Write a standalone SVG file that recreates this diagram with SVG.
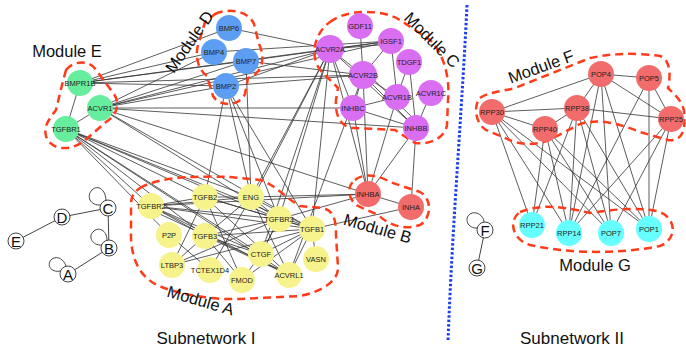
<svg xmlns="http://www.w3.org/2000/svg" width="686" height="349" viewBox="0 0 686 349">
<style>
.e{stroke:#333;stroke-width:0.8;fill:none}
.n text{font-family:"Liberation Sans",Arial,sans-serif;font-size:7.5px;fill:#222;text-anchor:middle;dominant-baseline:central}
.g circle{fill:#66ee9e}
.b circle{fill:#5e9ef2}
.p circle{fill:#d96ef2}
.y circle{fill:#f7f38c}
.r circle{fill:#f36c6c}
.c circle{fill:#66ffff}
.hull{fill:none;stroke:#ff3b1a;stroke-width:2.5;stroke-dasharray:8 5}
.lbl{font-family:"Liberation Sans",Arial,sans-serif;font-size:16.5px;fill:#111;text-anchor:middle}
.s circle{fill:#fff;stroke:#444;stroke-width:1}
.s text{font-family:"Liberation Sans",Arial,sans-serif;font-size:15px;fill:#111;text-anchor:middle;dominant-baseline:central}
.sl{stroke:#444;stroke-width:1;fill:none}
</style>
<rect width="686" height="349" fill="#fff"/>
<g id="connectors" class="e">
<line x1="80" y1="83" x2="66" y2="129"/><line x1="100" y1="108" x2="66" y2="129"/>
<line x1="80" y1="83" x2="229" y2="28"/><line x1="80" y1="83" x2="214" y2="52"/><line x1="80" y1="83" x2="246" y2="61"/><line x1="80" y1="83" x2="226" y2="86"/><line x1="80" y1="83" x2="330" y2="49"/><line x1="80" y1="83" x2="363" y2="75"/>
<line x1="100" y1="108" x2="214" y2="52"/><line x1="100" y1="108" x2="246" y2="61"/><line x1="100" y1="108" x2="226" y2="86"/><line x1="100" y1="108" x2="391" y2="41"/><line x1="100" y1="108" x2="330" y2="49"/><line x1="100" y1="108" x2="353" y2="108"/><line x1="100" y1="108" x2="416" y2="128"/><line x1="100" y1="108" x2="368" y2="194"/><line x1="100" y1="108" x2="279" y2="219"/><line x1="100" y1="108" x2="312" y2="229"/>
<line x1="66" y1="129" x2="151" y2="206"/><line x1="66" y1="129" x2="205" y2="197"/><line x1="66" y1="129" x2="205" y2="236"/><line x1="66" y1="129" x2="251" y2="197"/><line x1="66" y1="129" x2="279" y2="219"/><line x1="66" y1="129" x2="312" y2="229"/><line x1="66" y1="129" x2="289" y2="275"/><line x1="66" y1="129" x2="261" y2="254"/><line x1="66" y1="129" x2="169" y2="235"/>
<line x1="229" y1="28" x2="330" y2="49"/><line x1="246" y1="61" x2="363" y2="75"/><line x1="246" y1="61" x2="391" y2="41"/><line x1="214" y1="52" x2="391" y2="41"/><line x1="226" y1="86" x2="330" y2="49"/><line x1="226" y1="86" x2="363" y2="75"/>
<line x1="226" y1="86" x2="205" y2="197"/><line x1="226" y1="86" x2="251" y2="197"/><line x1="226" y1="86" x2="312" y2="229"/><line x1="246" y1="61" x2="251" y2="197"/><line x1="226" y1="86" x2="279" y2="219"/>
<line x1="330" y1="49" x2="363" y2="75"/><line x1="330" y1="49" x2="416" y2="128"/><line x1="330" y1="49" x2="353" y2="108"/><line x1="360" y1="26" x2="363" y2="75"/><line x1="391" y1="41" x2="363" y2="75"/><line x1="391" y1="41" x2="397" y2="97"/><line x1="409" y1="62" x2="397" y2="97"/><line x1="409" y1="62" x2="416" y2="128"/><line x1="431" y1="93" x2="416" y2="128"/><line x1="363" y1="75" x2="397" y2="97"/><line x1="363" y1="75" x2="416" y2="128"/><line x1="367" y1="73" x2="420" y2="125"/><line x1="363" y1="75" x2="353" y2="108"/><line x1="353" y1="108" x2="397" y2="97"/><line x1="353" y1="108" x2="416" y2="128"/><line x1="330" y1="49" x2="391" y2="41"/><line x1="330" y1="49" x2="391" y2="44"/>
<line x1="330" y1="49" x2="368" y2="194"/><line x1="330" y1="49" x2="251" y2="197"/><line x1="330" y1="49" x2="253" y2="198"/><line x1="330" y1="49" x2="279" y2="219"/><line x1="330" y1="49" x2="312" y2="229"/><line x1="330" y1="49" x2="261" y2="254"/><line x1="363" y1="75" x2="368" y2="194"/><line x1="353" y1="108" x2="368" y2="194"/><line x1="397" y1="97" x2="368" y2="194"/><line x1="416" y1="128" x2="368" y2="194"/><line x1="416" y1="128" x2="411" y2="207"/><line x1="363" y1="75" x2="289" y2="275"/>
<line x1="368" y1="194" x2="411" y2="207"/><line x1="368" y1="194" x2="251" y2="197"/><line x1="368" y1="194" x2="279" y2="219"/><line x1="411" y1="207" x2="312" y2="229"/><line x1="368" y1="194" x2="151" y2="206"/>
<line x1="151" y1="206" x2="205" y2="197"/><line x1="151" y1="206" x2="251" y2="197"/><line x1="151" y1="206" x2="279" y2="219"/><line x1="151" y1="206" x2="312" y2="229"/><line x1="151" y1="206" x2="289" y2="275"/><line x1="151" y1="206" x2="261" y2="254"/><line x1="151" y1="206" x2="205" y2="236"/><line x1="151" y1="210" x2="285" y2="272"/>
<line x1="205" y1="197" x2="251" y2="197"/><line x1="205" y1="197" x2="279" y2="219"/><line x1="205" y1="197" x2="312" y2="229"/><line x1="205" y1="197" x2="172" y2="265"/><line x1="205" y1="197" x2="242" y2="280"/><line x1="205" y1="197" x2="289" y2="275"/>
<line x1="251" y1="197" x2="205" y2="236"/><line x1="251" y1="197" x2="312" y2="229"/><line x1="251" y1="197" x2="210" y2="270"/><line x1="251" y1="197" x2="289" y2="275"/><line x1="251" y1="197" x2="279" y2="219"/>
<line x1="279" y1="219" x2="205" y2="236"/><line x1="279" y1="219" x2="312" y2="229"/><line x1="279" y1="219" x2="172" y2="265"/><line x1="279" y1="219" x2="261" y2="254"/>
<line x1="312" y1="229" x2="205" y2="236"/><line x1="312" y1="229" x2="261" y2="254"/><line x1="312" y1="229" x2="289" y2="275"/><line x1="312" y1="229" x2="242" y2="280"/><line x1="312" y1="229" x2="316" y2="259"/><line x1="312" y1="229" x2="172" y2="265"/>
<line x1="205" y1="236" x2="289" y2="275"/><line x1="205" y1="236" x2="261" y2="254"/><line x1="205" y1="236" x2="172" y2="265"/><line x1="205" y1="236" x2="242" y2="280"/><line x1="169" y1="235" x2="210" y2="270"/><line x1="261" y1="254" x2="242" y2="280"/><line x1="261" y1="254" x2="279" y2="219"/>
<line x1="601" y1="74" x2="649" y2="78"/><line x1="601" y1="74" x2="492" y2="112"/><line x1="601" y1="74" x2="577" y2="108"/><line x1="601" y1="74" x2="671" y2="119"/><line x1="649" y1="78" x2="671" y2="119"/><line x1="492" y1="112" x2="577" y2="108"/><line x1="492" y1="112" x2="545" y2="129"/><line x1="577" y1="108" x2="545" y2="129"/><line x1="577" y1="108" x2="671" y2="119"/>
<line x1="492" y1="112" x2="532" y2="225"/><line x1="492" y1="112" x2="569" y2="233"/><line x1="492" y1="112" x2="649" y2="229"/><line x1="492" y1="112" x2="611" y2="233"/>
<line x1="545" y1="129" x2="532" y2="225"/><line x1="545" y1="129" x2="569" y2="233"/><line x1="545" y1="129" x2="611" y2="233"/><line x1="545" y1="129" x2="649" y2="229"/>
<line x1="577" y1="108" x2="532" y2="225"/><line x1="577" y1="108" x2="569" y2="233"/><line x1="577" y1="108" x2="611" y2="233"/><line x1="577" y1="108" x2="649" y2="229"/>
<line x1="601" y1="74" x2="569" y2="233"/><line x1="601" y1="74" x2="611" y2="233"/><line x1="601" y1="74" x2="649" y2="229"/>
<line x1="649" y1="78" x2="569" y2="233"/><line x1="649" y1="78" x2="649" y2="229"/>
<line x1="671" y1="119" x2="569" y2="233"/><line x1="671" y1="119" x2="611" y2="233"/><line x1="671" y1="119" x2="649" y2="229"/>
</g>
<g id="hulls">
<path class="hull" d="M66 70 C74 60 90 60 96 70 L114 94 C121 104 116 116 106 122 L84 141 C70 152 50 150 46 136 C43 126 50 118 56 110 L62 85 Z"/>
<path class="hull" d="M215 14 C228 8 248 10 254 24 L259 44 C266 58 262 74 248 78 L245 94 C240 106 220 108 213 96 L207 76 C198 70 194 55 199 42 L205 22 Z"/>
<path class="hull" d="M330 22 C345 10 380 8 400 20 L430 40 C445 55 450 80 448 100 L447 125 C445 138 430 145 415 143 L395 130 L355 128 C340 128 335 115 336 100 L338 88 L322 72 C310 60 312 35 330 22 Z"/>
<path class="hull" d="M355 180 C365 172 380 176 390 182 L420 192 C432 198 432 218 420 225 C405 230 390 226 378 215 L358 206 C348 200 346 186 355 180 Z"/>
<path class="hull" d="M140 188 C160 176 200 176 230 177 L260 180 C275 184 285 198 300 206 L322 208 C334 210 336 220 336 235 L338 268 C338 282 320 292 300 296 L240 299 C210 300 175 294 155 284 C138 274 132 258 131 238 L131 205 C131 196 134 192 140 188 Z"/>
<path class="hull" d="M480 98 C488 92 500 92 515 88 L590 58 C610 54 630 52 660 56 C672 60 670 80 668 88 C676 96 686 104 684 118 C686 132 680 142 668 140 L640 132 C620 124 600 118 580 124 L555 137 C540 146 520 146 505 138 L486 130 C474 122 474 104 480 98 Z"/>
<path class="hull" d="M520 212 C540 204 560 206 590 213 C610 210 640 206 660 212 C678 220 676 240 660 246 C620 254 570 254 530 245 C512 240 508 220 520 212 Z"/>
</g>
<g class="n g">
<g id="BMPR1B"><circle cx="80" cy="83" r="13"/><text x="80" y="83">BMPR1B</text></g>
<g id="ACVR1"><circle cx="100" cy="108" r="13"/><text x="100" y="108">ACVR1</text></g>
<g id="TGFBR1"><circle cx="66" cy="129" r="13"/><text x="66" y="129">TGFBR1</text></g>
</g>
<g class="n b">
<g id="BMP6"><circle cx="229" cy="28" r="13"/><text x="229" y="28">BMP6</text></g>
<g id="BMP4"><circle cx="214" cy="52" r="13"/><text x="214" y="52">BMP4</text></g>
<g id="BMP7"><circle cx="246" cy="61" r="13"/><text x="246" y="61">BMP7</text></g>
<g id="BMP2"><circle cx="226" cy="86" r="13"/><text x="226" y="86">BMP2</text></g>
</g>
<g class="n p">
<g id="GDF11"><circle cx="360" cy="26" r="13"/><text x="360" y="26">GDF11</text></g>
<g id="IGSF1"><circle cx="391" cy="41" r="13"/><text x="391" y="41">IGSF1</text></g>
<g id="ACVR2A"><circle cx="330" cy="49" r="14"/><text x="330" y="49">ACVR2A</text></g>
<g id="TDGF1"><circle cx="409" cy="62" r="13"/><text x="409" y="62">TDGF1</text></g>
<g id="ACVR2B"><circle cx="363" cy="75" r="14"/><text x="363" y="75">ACVR2B</text></g>
<g id="ACVR1B"><circle cx="397" cy="97" r="13"/><text x="397" y="97">ACVR1B</text></g>
<g id="ACVR1C"><circle cx="431" cy="93" r="13"/><text x="431" y="93">ACVR1C</text></g>
<g id="INHBC"><circle cx="353" cy="108" r="13"/><text x="353" y="108">INHBC</text></g>
<g id="INHBB"><circle cx="416" cy="128" r="13"/><text x="416" y="128">INHBB</text></g>
</g>
<g class="n r">
<g id="INHBA"><circle cx="368" cy="194" r="13"/><text x="368" y="194">INHBA</text></g>
<g id="INHA"><circle cx="411" cy="207" r="13"/><text x="411" y="207">INHA</text></g>
</g>
<g class="n y">
<g id="TGFBR2"><circle cx="151" cy="206" r="13"/><text x="151" y="206">TGFBR2</text></g>
<g id="TGFB2"><circle cx="205" cy="197" r="13"/><text x="205" y="197">TGFB2</text></g>
<g id="ENG"><circle cx="251" cy="197" r="13"/><text x="251" y="197">ENG</text></g>
<g id="TGFBR3"><circle cx="279" cy="219" r="13"/><text x="279" y="219">TGFBR3</text></g>
<g id="TGFB1"><circle cx="312" cy="229" r="13"/><text x="312" y="229">TGFB1</text></g>
<g id="P2P"><circle cx="169" cy="235" r="13"/><text x="169" y="235">P2P</text></g>
<g id="TGFB3"><circle cx="205" cy="236" r="13"/><text x="205" y="236">TGFB3</text></g>
<g id="CTGF"><circle cx="261" cy="254" r="13"/><text x="261" y="254">CTGF</text></g>
<g id="VASN"><circle cx="316" cy="259" r="13"/><text x="316" y="259">VASN</text></g>
<g id="LTBP3"><circle cx="172" cy="265" r="13"/><text x="172" y="265">LTBP3</text></g>
<g id="TCTEX1D4"><circle cx="210" cy="270" r="13"/><text x="210" y="270">TCTEX1D4</text></g>
<g id="FMOD"><circle cx="242" cy="280" r="13"/><text x="242" y="280">FMOD</text></g>
<g id="ACVRL1"><circle cx="289" cy="275" r="13"/><text x="289" y="275">ACVRL1</text></g>
</g>
<g class="n r">
<g id="POP4"><circle cx="601" cy="74" r="13"/><text x="601" y="74">POP4</text></g>
<g id="POP5"><circle cx="649" cy="78" r="13"/><text x="649" y="78">POP5</text></g>
<g id="RPP30"><circle cx="492" cy="112" r="13"/><text x="492" y="112">RPP30</text></g>
<g id="RPP38"><circle cx="577" cy="108" r="13"/><text x="577" y="108">RPP38</text></g>
<g id="RPP40"><circle cx="545" cy="129" r="13"/><text x="545" y="129">RPP40</text></g>
<g id="RPP25"><circle cx="671" cy="119" r="13"/><text x="671" y="119">RPP25</text></g>
</g>
<g class="n c">
<g id="RPP21"><circle cx="532" cy="225" r="13"/><text x="532" y="225">RPP21</text></g>
<g id="RPP14"><circle cx="569" cy="233" r="13"/><text x="569" y="233">RPP14</text></g>
<g id="POP7"><circle cx="611" cy="233" r="13"/><text x="611" y="233">POP7</text></g>
<g id="POP1"><circle cx="649" cy="229" r="13"/><text x="649" y="229">POP1</text></g>
</g>
<g id="small-graph">
<line class="sl" x1="62" y1="217" x2="108" y2="208"/>
<line class="sl" x1="16" y1="241" x2="62" y2="217"/>
<line class="sl" x1="108" y1="208" x2="109" y2="248"/>
<line class="sl" x1="109" y1="248" x2="68" y2="274"/>
<path class="sl" d="M101 205 C90 206 86 196 92 190 C98 184 106 190 106 201"/>
<path class="sl" d="M102 245 C92 246 88 236 93 232 C98 226 107 230 107 240"/>
<path class="sl" d="M61 271 C50 273 46 264 52 259 C58 255 64 260 66 266"/>
<path class="sl" d="M478 228 C467 229 464 218 470 214 C476 210 484 216 484 222"/>
<line class="sl" x1="485" y1="230" x2="477" y2="268"/>
<g id="C" class="s"><circle cx="108" cy="208" r="8"/><text x="108" y="208">C</text></g>
<g id="D" class="s"><circle cx="62" cy="217" r="8"/><text x="62" y="217">D</text></g>
<g id="E" class="s"><circle cx="16" cy="241" r="8"/><text x="16" y="241">E</text></g>
<g id="B" class="s"><circle cx="109" cy="248" r="8"/><text x="109" y="248">B</text></g>
<g id="A" class="s"><circle cx="68" cy="274" r="8"/><text x="68" y="274">A</text></g>
<g id="F" class="s"><circle cx="485" cy="230" r="8"/><text x="485" y="230">F</text></g>
<g id="G" class="s"><circle cx="477" cy="268" r="8"/><text x="477" y="268">G</text></g>
</g>
<path d="M467 5 C462 110 452 230 448 342" fill="none" stroke="#1a3ff0" stroke-width="3" stroke-dasharray="2.5 2"/>
<g id="labels">
<text class="lbl" x="67" y="57">Module E</text>
<text class="lbl" transform="translate(194,45) rotate(-55)">Module D</text>
<text class="lbl" transform="translate(428,44) rotate(45)">Module C</text>
<text class="lbl" transform="translate(376,234) rotate(16)">Module B</text>
<text class="lbl" transform="translate(199,306) rotate(16)">Module A</text>
<text class="lbl" transform="translate(543,72) rotate(-20)">Module F</text>
<text class="lbl" x="595" y="271">Module G</text>
<text class="lbl" x="206" y="344" style="font-size:17px">Subnetwork I</text>
<text class="lbl" x="572" y="344" style="font-size:17px">Subnetwork II</text>
</g>
</svg>
